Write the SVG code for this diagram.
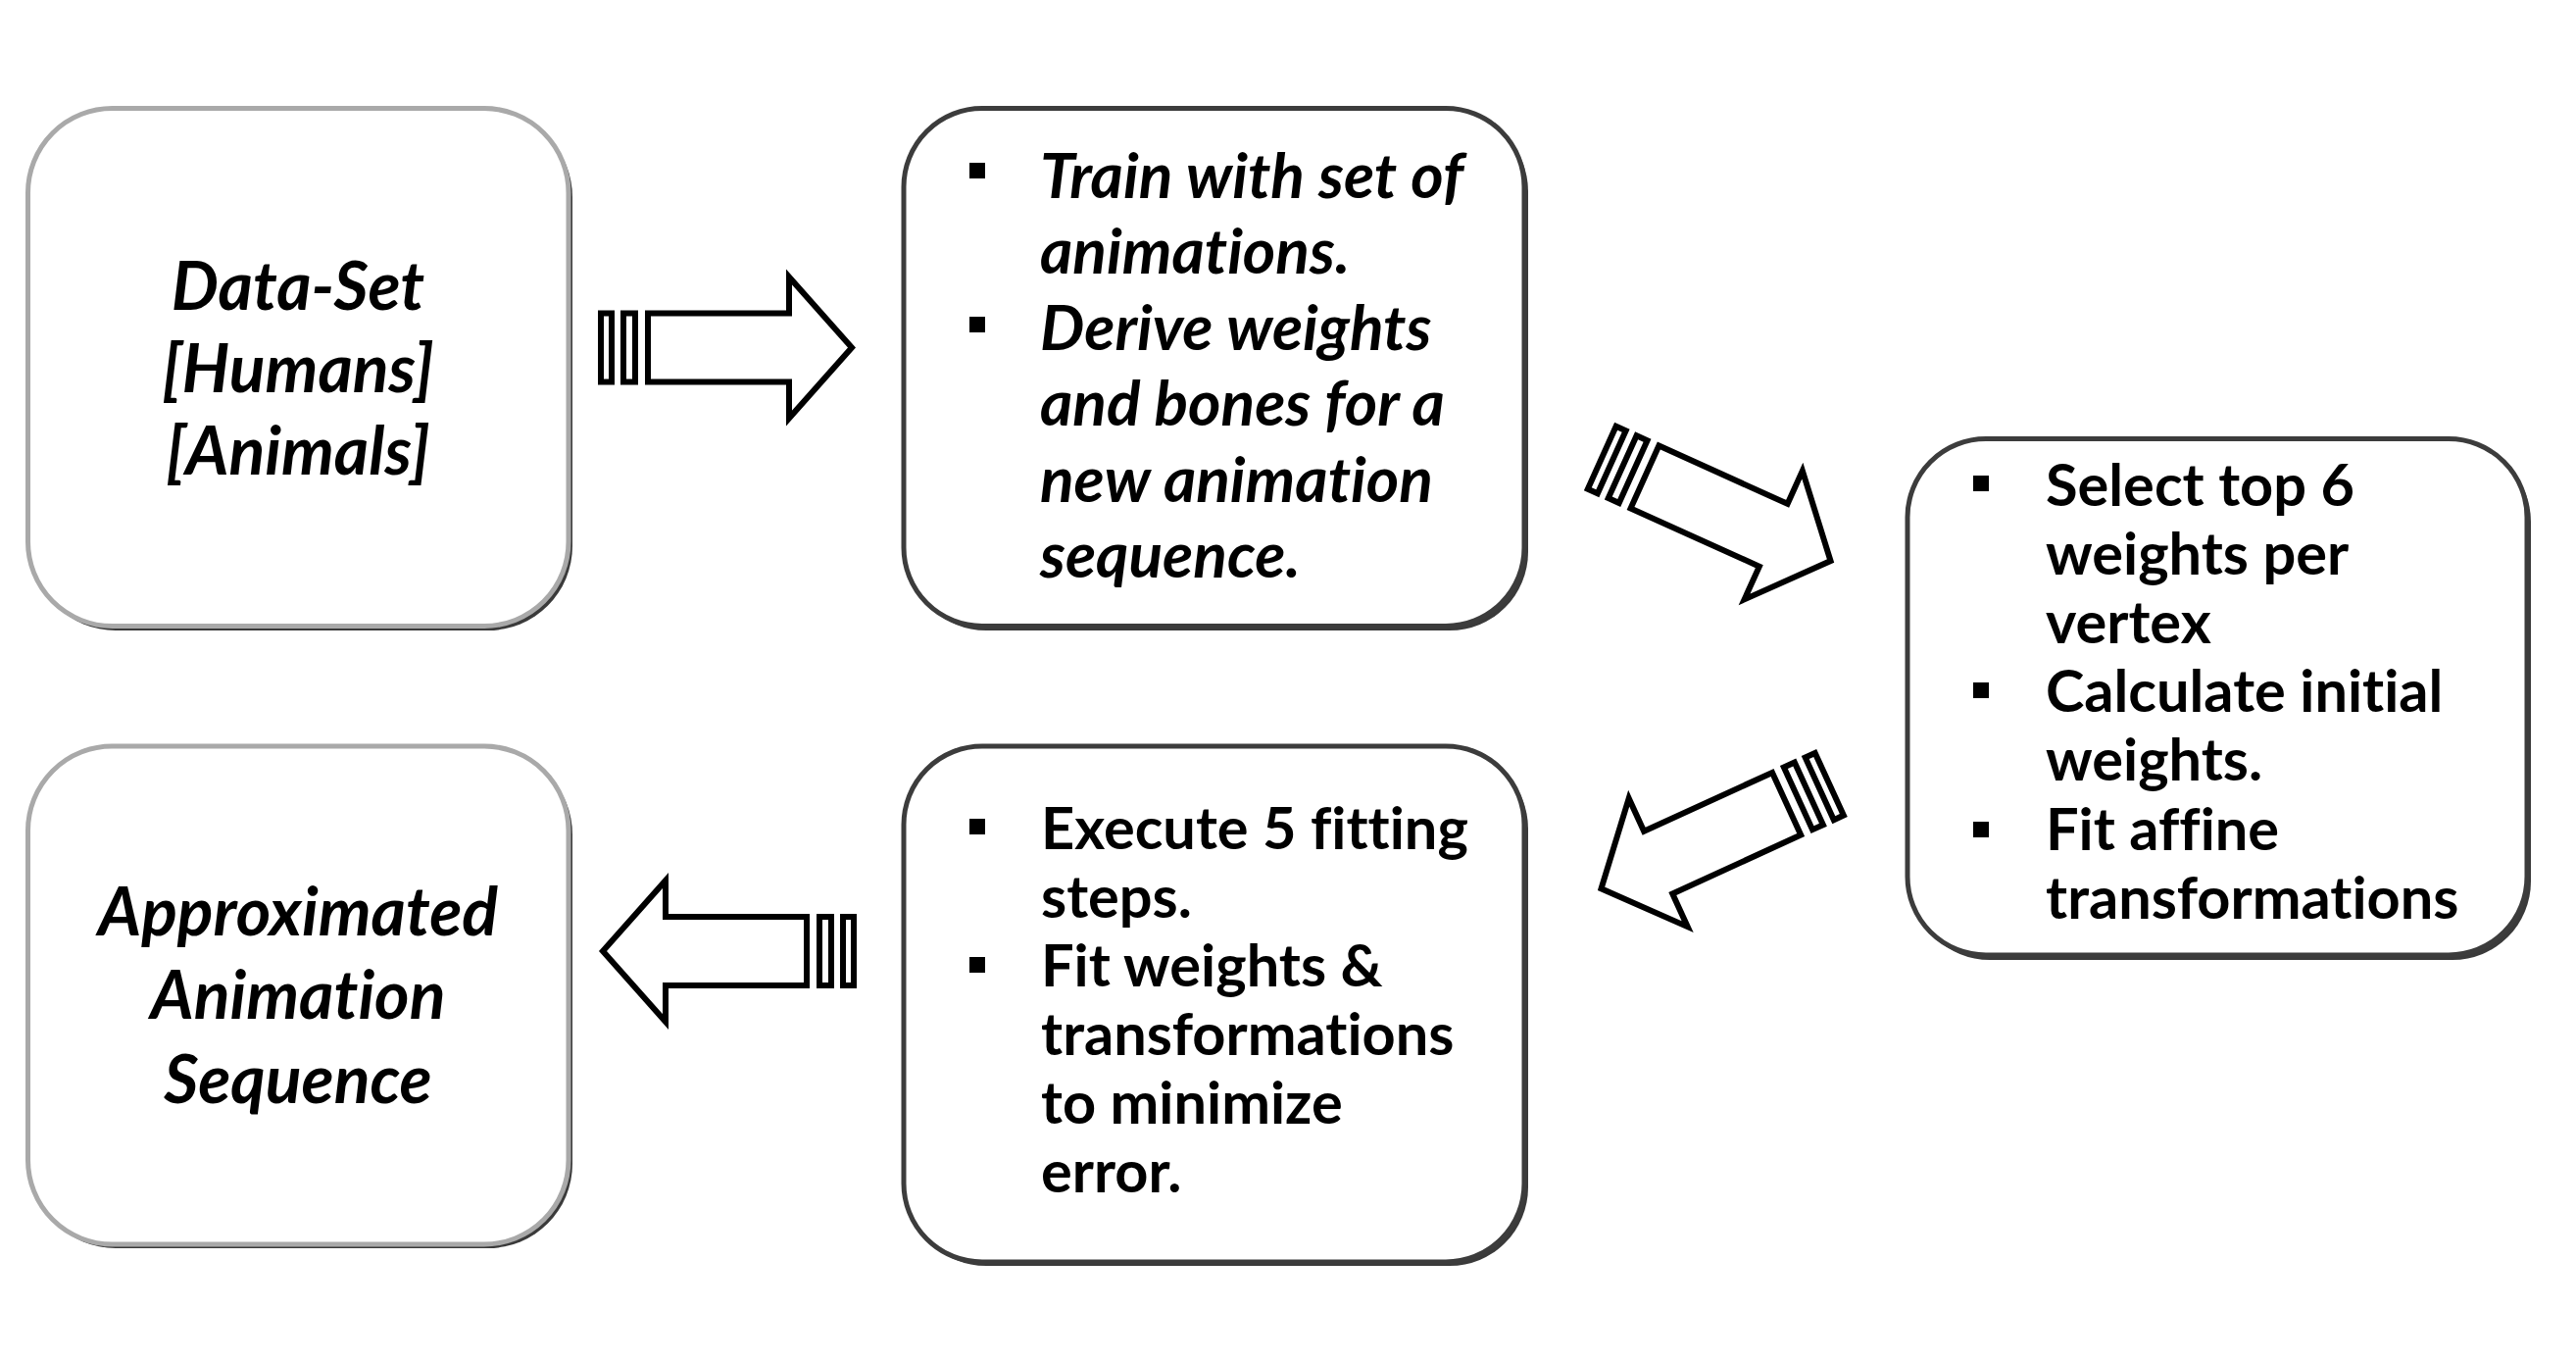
<svg xmlns="http://www.w3.org/2000/svg" width="2628" height="1387" viewBox="0 0 2628 1387">
<defs>
<style>
.bg{fill:#ffffff}
.shadow{fill:#3a3a3a}
.boxL{fill:#ffffff;stroke:#a9a9a9;stroke-width:5}
.boxD{fill:#ffffff;stroke:#3c3c3c;stroke-width:5}
.t{font-family:Lato,"Liberation Sans",sans-serif;font-weight:bold;fill:#000;font-variant-ligatures:none}
.it{font-style:italic}
.big{font-size:68px}
.mid{font-size:64px}
.sm{font-size:59.5px}
.arr{fill:#ffffff;stroke:#000;stroke-width:6;stroke-linejoin:miter}
</style>
<g id="striped">
<rect class="arr" x="3" y="-35" width="11" height="70"/>
<rect class="arr" x="26" y="-35" width="12" height="70"/>
<polygon class="arr" points="51,-35 195,-35 195,-72 259,0 195,72 195,35 51,35"/>
</g>
</defs>
<rect class="bg" x="0" y="0" width="2628" height="1387"/>

<g id="node-dataset">
<rect class="shadow" x="32" y="115" width="552" height="528" rx="86"/>
<rect class="boxL" x="28.5" y="110.5" width="551.5" height="528" rx="86"/>
<text class="t it big" text-anchor="middle" x="304" y="316">Data-Set</text>
<text class="t it big" text-anchor="middle" x="304" y="400">[Humans]</text>
<text class="t it big" text-anchor="middle" x="304" y="484">[Animals]</text>
</g>

<g id="node-train">
<rect class="shadow" x="926" y="115" width="633" height="528" rx="80"/>
<rect class="boxD" x="922" y="110.5" width="633" height="528" rx="80"/>
<rect x="989" y="166" width="16" height="16"/>
<rect x="989" y="323" width="16" height="16"/>
<g class="t it mid">
<text x="1061" y="202">Train with set of</text>
<text x="1061" y="279">animations.</text>
<text x="1061" y="357">Derive weights</text>
<text x="1061" y="434">and bones for a</text>
<text x="1061" y="512">new animation</text>
<text x="1061" y="589">sequence.</text>
</g>
</g>

<g id="node-select">
<rect class="shadow" x="1950" y="452" width="632" height="527" rx="80"/>
<rect class="boxD" x="1946" y="447.5" width="632" height="526.5" rx="80"/>
<rect x="2013" y="485" width="16" height="16"/>
<rect x="2013" y="696" width="16" height="16"/>
<rect x="2013" y="838" width="16" height="16"/>
<g class="t sm">
<text x="2087" y="516">Select top 6</text>
<text x="2087" y="586">weights per</text>
<text x="2087" y="656">vertex</text>
<text x="2087" y="726">Calculate initial</text>
<text x="2087" y="796">weights.</text>
<text x="2087" y="867">Fit affine</text>
<text x="2087" y="937">transformations</text>
</g>
</g>

<g id="node-execute">
<rect class="shadow" x="926" y="765" width="633" height="526" rx="80"/>
<rect class="boxD" x="922" y="761" width="633" height="526" rx="80"/>
<rect x="989" y="835" width="16" height="16"/>
<rect x="989" y="976" width="16" height="16"/>
<g class="t sm">
<text x="1062" y="866">Execute 5 fitting</text>
<text x="1062" y="936">steps.</text>
<text x="1062" y="1006">Fit weights &amp;</text>
<text x="1062" y="1076">transformations</text>
<text x="1062" y="1146">to minimize</text>
<text x="1062" y="1216">error.</text>
</g>
</g>

<g id="node-approx">
<rect class="shadow" x="32" y="765" width="552" height="508" rx="86"/>
<rect class="boxL" x="28.5" y="761" width="551.5" height="508" rx="86"/>
<text class="t it big" text-anchor="middle" x="304" y="954">Approximated</text>
<text class="t it big" text-anchor="middle" x="304" y="1039">Animation</text>
<text class="t it big" text-anchor="middle" x="304" y="1125">Sequence</text>
</g>

<g id="connectors">
<use href="#striped" transform="translate(610,354.5)"/>
<use href="#striped" transform="translate(1631.5,465.5) rotate(24.3)"/>
<use href="#striped" transform="translate(1869,798.5) rotate(155.4)"/>
<use href="#striped" transform="translate(874,970) rotate(180)"/>
</g>
</svg>
